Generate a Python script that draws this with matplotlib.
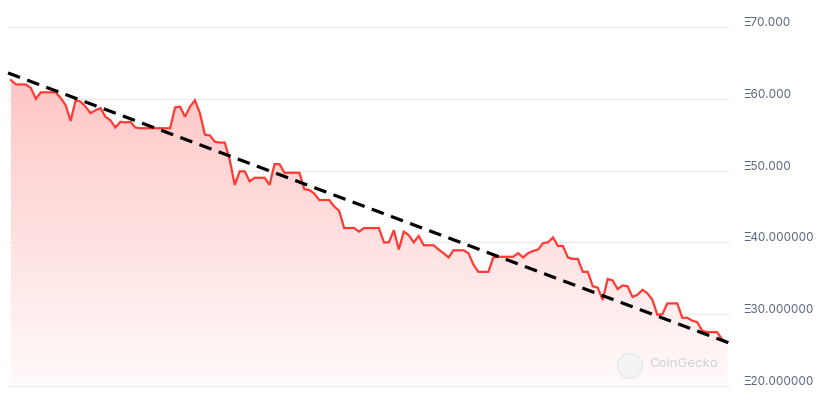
import numpy as np
import matplotlib
matplotlib.use("Agg")
import matplotlib.pyplot as plt
from matplotlib.patches import Circle
from matplotlib.colors import LinearSegmentedColormap
from matplotlib.transforms import blended_transform_factory, ScaledTranslation

prices = [62.6, 62.0, 62.0, 62.0, 61.5, 60.0, 60.9, 60.9, 60.9, 60.9,
          60.1, 59.1, 56.9, 59.8, 59.6, 58.9, 58.0, 58.4, 58.7, 57.5,
          57.0, 56.0, 56.8, 56.7, 56.8, 56.0, 55.9, 55.9, 55.9, 55.9,
          55.9, 55.9, 55.9, 58.8, 58.9, 57.5, 58.9, 59.8, 58.0, 55.0,
          54.9, 54.0, 53.9, 53.9, 51.5, 48.0, 49.9, 49.9, 48.5, 49.0,
          49.0, 49.0, 48.0, 50.9, 50.9, 49.7, 49.7, 49.7, 49.7, 47.4,
          47.3, 46.8, 45.9, 45.9, 45.9, 45.0, 44.4, 42.0, 42.0, 42.0,
          41.5, 42.0, 42.0, 42.0, 42.0, 40.0, 40.0, 41.7, 39.0, 41.5,
          41.0, 40.0, 40.9, 39.6, 39.6, 39.6, 39.0, 38.5, 37.9, 38.9,
          38.9, 38.9, 38.5, 36.9, 35.9, 35.9, 35.9, 37.9, 38.0, 38.0,
          38.0, 38.0, 38.5, 37.9, 38.5, 38.8, 39.0, 39.9, 40.0, 40.7,
          39.5, 39.5, 37.9, 37.7, 37.7, 35.9, 35.9, 33.9, 33.7, 32.0,
          34.9, 34.7, 33.5, 34.0, 33.9, 32.4, 32.7, 33.4, 32.9, 32.0,
          29.9, 30.0, 31.5, 31.5, 31.5, 29.5, 29.5, 29.1, 28.9, 27.7,
          27.5, 27.5, 27.5, 26.5, 26.1]
trend_start = 63.6
trend_end = 26.0
tick_values = [20, 30, 40, 50, 60, 70]
tick_labels = ["Ξ20.000000", "Ξ30.000000", "Ξ40.000000", "Ξ50.000", "Ξ60.000", "Ξ70.000"]

W, H = 820, 409
fig = plt.figure(figsize=(W / 100, H / 100), dpi=100)
ax = fig.add_axes([9 / W, (H - 386) / H, 719 / W, 386 / H])
n = len(prices)
x = np.arange(n)
ax.set_xlim(-0.4, n - 1 + 0.2)
ax.set_ylim(20, 73.76)
for s in ax.spines.values():
    s.set_visible(False)
ax.set_xticks([])
ax.set_yticks([])

# gridlines
for v in tick_values:
    ax.axhline(v, color="#ebebeb", lw=0.9, zorder=0, clip_on=False)

# gradient fill
poly = ax.fill_between(x, prices, 20, color="none", lw=0)
grad = np.linspace(0, 1, 256).reshape(-1, 1)
cmap = LinearSegmentedColormap.from_list("g", ["#fffafa", "#ffc6c6"])
im = ax.imshow(grad, aspect="auto", cmap=cmap, origin="lower",
               extent=[0, n - 1, 20.3, max(prices)], zorder=1)
im.set_clip_path(poly.get_paths()[0], transform=ax.transData)

ax.plot(x, prices, color="#ff3a33", lw=1.6, zorder=3, solid_joinstyle="miter")

# trend line
tx = np.array([-0.6, n - 1 + 0.4])
slope = (trend_end - trend_start) / (tx[1] - tx[0])
ty = trend_start + slope * (tx - tx[0])
ax.plot(tx, ty, color="black", lw=2.3, dashes=(4.0, 2.4), zorder=4, clip_on=False)

# y tick labels on right
trans = blended_transform_factory(fig.transFigure, ax.transData)
off = ScaledTranslation(0, 4 / 100, fig.dpi_scale_trans)
for v, lab in zip(tick_values, tick_labels):
    fig.text(743 / W, v, lab, transform=trans + off, ha="left", va="center",
             fontsize=8.4, color="#58667e", family=["Inter", "DejaVu Sans"])

# watermark
logo = Circle((630 / 100, (H - 366) / 100), 0.125, transform=fig.dpi_scale_trans,
              facecolor="#f3f3f3", edgecolor="#e8e8e8", lw=1, zorder=5)
fig.patches.append(logo)
fig.text(649 / W, (H - 364) / H, "CoinGecko", ha="left", va="center",
         fontsize=9.6, color="#d0d0d0", family=["Inter", "DejaVu Sans"])

fig.savefig("out.png", dpi=100)
